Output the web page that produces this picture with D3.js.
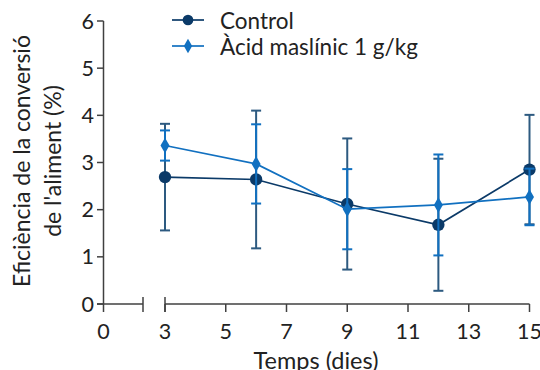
<!DOCTYPE html>
<html><head><meta charset="utf-8">
<script src="https://cdn.jsdelivr.net/npm/d3@7"></script>
<style>body{margin:0;background:#fff}svg{display:block}</style>
</head><body><svg id="c" width="540" height="370"></svg>
<script>
const days = [3, 6, 9, 12, 15];
const controlMean = [2.69, 2.64, 2.12, 1.68, 2.85];
const controlErr = [1.13, 1.46, 1.39, 1.40, 1.16];
const acidMean = [3.36, 2.97, 2.01, 2.10, 2.27];
const acidErr = [0.32, 0.84, 0.85, 1.07, 0.60];
const yTicks = [0, 1, 2, 3, 4, 5, 6];
const xTicksMain = [3, 5, 7, 9, 11, 13, 15];
const seriesNames = ["Control", "Àcid maslínic 1 g/kg"];
const yTitle = ["Eficiència de la conversió", "de l'aliment (%)"];
const xTitle = "Temps (dies)";

const svg = d3.select("#c");
const font = "Lato, 'Open Sans', sans-serif";
const axisCol = "#404040";
const cCol = "#0b3a68", cErrCol = "#2d5a80", aCol = "#1170c0";

const y = d3.scaleLinear().domain([0, 6]).range([304, 21]);
const xA = d3.scaleLinear().domain([0, 1.3]).range([103.5, 143]);
const xB = d3.scaleLinear().domain([3, 15]).range([165, 529.5]);

// y axis
svg.append("line").attr("x1", 103.5).attr("x2", 103.5).attr("y1", y(6)).attr("y2", 312)
  .attr("stroke", axisCol).attr("stroke-width", 1.5);
yTicks.forEach(t => {
  svg.append("line").attr("x1", 97).attr("x2", 103.5).attr("y1", y(t)).attr("y2", y(t))
    .attr("stroke", axisCol).attr("stroke-width", 1.5);
  svg.append("text").attr("x", 94).attr("y", y(t) + 7.5).attr("text-anchor", "end")
    .attr("font-family", font).attr("font-size", 21.5).attr("fill", "#222").text(t);
});
// x axis segments
svg.append("line").attr("x1", 97).attr("x2", xA(1.3)).attr("y1", 304).attr("y2", 304)
  .attr("stroke", axisCol).attr("stroke-width", 1.5);
svg.append("line").attr("x1", xA(1.3)).attr("x2", xA(1.3)).attr("y1", 297).attr("y2", 312)
  .attr("stroke", axisCol).attr("stroke-width", 1.5);
svg.append("line").attr("x1", xB(3)).attr("x2", xB(15)).attr("y1", 304).attr("y2", 304)
  .attr("stroke", axisCol).attr("stroke-width", 1.5);
svg.append("line").attr("x1", xB(3)).attr("x2", xB(3)).attr("y1", 297).attr("y2", 312)
  .attr("stroke", axisCol).attr("stroke-width", 1.5);
xTicksMain.forEach(t => {
  svg.append("line").attr("x1", xB(t)).attr("x2", xB(t)).attr("y1", 304).attr("y2", 312)
    .attr("stroke", axisCol).attr("stroke-width", 1.5);
});
const xLabels = [[xA(0), 0]].concat(xTicksMain.map(t => [xB(t), t]));
xLabels.forEach(([px, t]) => {
  svg.append("text").attr("x", px).attr("y", 339).attr("text-anchor", "middle")
    .attr("font-family", font).attr("font-size", 21.5).attr("fill", "#222").text(t);
});
svg.append("text").attr("x", 316).attr("y", 369).attr("text-anchor", "middle")
  .attr("font-family", font).attr("font-size", 23.5).attr("fill", "#222").text(xTitle);
yTitle.forEach((s, i) => {
  svg.append("text").attr("transform", `translate(${30 + i * 31},161) rotate(-90)`)
    .attr("text-anchor", "middle").attr("font-family", font).attr("font-size", 23)
    .attr("fill", "#222").text(s);
});

function drawSeries(mean, err, col, errCol, shape) {
  const pts = days.map((d, i) => ({ x: xB(d), m: mean[i], e: err[i] }));
  const g = svg.append("g");
  pts.forEach(p => {
    g.append("line").attr("x1", p.x).attr("x2", p.x).attr("y1", y(p.m - p.e)).attr("y2", y(p.m + p.e))
      .attr("stroke", errCol).attr("stroke-width", 2);
    [p.m - p.e, p.m + p.e].forEach(v => {
      g.append("line").attr("x1", p.x - 5).attr("x2", p.x + 5).attr("y1", y(v)).attr("y2", y(v))
        .attr("stroke", errCol).attr("stroke-width", 2);
    });
  });
  g.append("path").attr("d", d3.line().x(p => p.x).y(p => y(p.m))(pts))
    .attr("fill", "none").attr("stroke", col).attr("stroke-width", 1.7);
  pts.forEach(p => {
    g.append("path").attr("transform", `translate(${p.x},${y(p.m)})`)
      .attr("d", d3.symbol().type(shape).size(shape === d3.symbolCircle ? 120 : 70)())
      .attr("fill", col);
  });
}
drawSeries(controlMean, controlErr, cCol, cErrCol, d3.symbolCircle);
drawSeries(acidMean, acidErr, aCol, aCol, d3.symbolDiamond);

// legend
const leg = [[cCol, d3.symbolCircle, 20], [aCol, d3.symbolDiamond, 46]];
leg.forEach(([col, shape, ly], i) => {
  svg.append("line").attr("x1", 172).attr("x2", 204).attr("y1", ly).attr("y2", ly)
    .attr("stroke", col).attr("stroke-width", 1.7);
  svg.append("path").attr("transform", `translate(188,${ly})`)
    .attr("d", d3.symbol().type(shape).size(shape === d3.symbolCircle ? 90 : 60)()).attr("fill", col);
  svg.append("text").attr("x", 220).attr("y", ly + 8.5).attr("font-family", font)
    .attr("font-size", 22.5).attr("fill", "#222").text(seriesNames[i]);
});
</script></body></html>
